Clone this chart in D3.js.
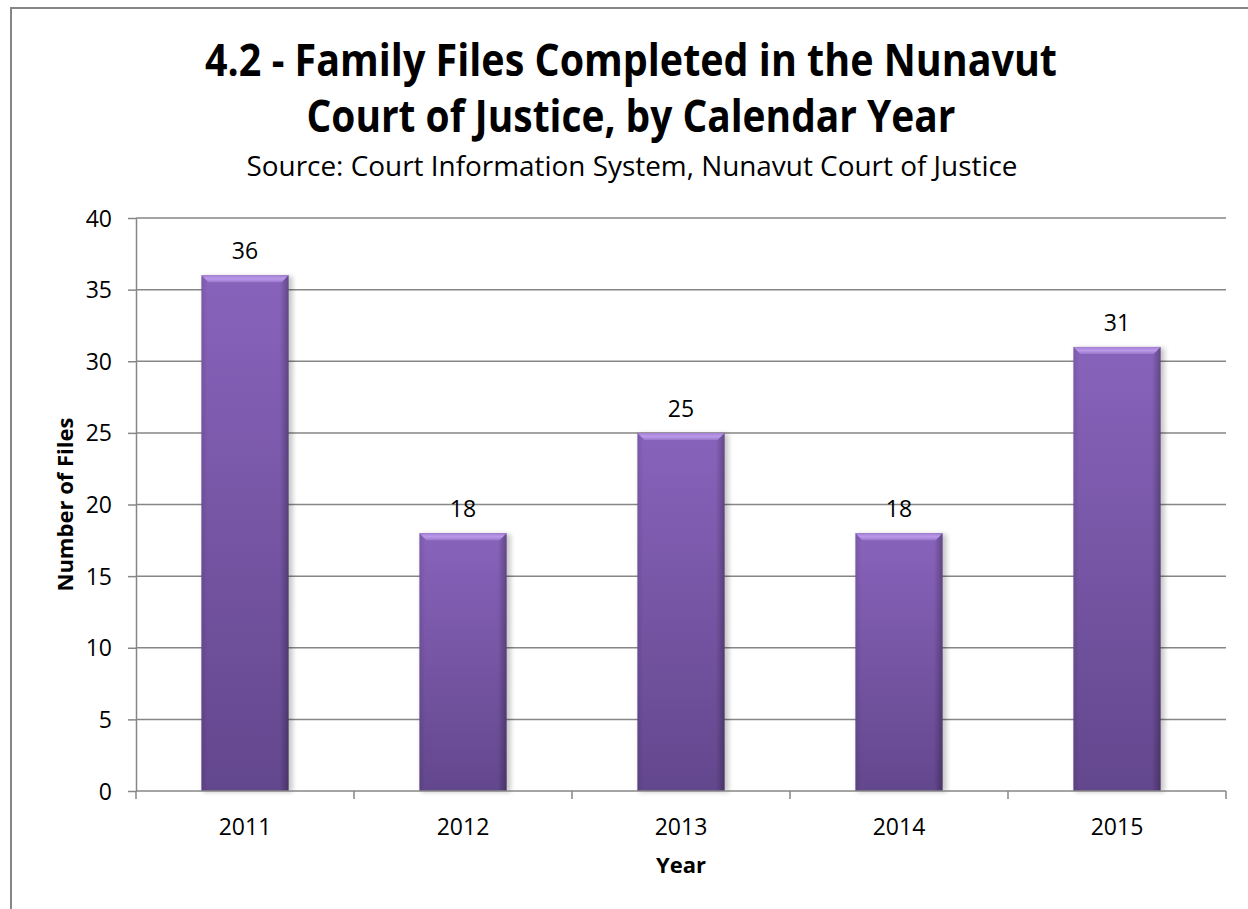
<!DOCTYPE html>
<html>
<head>
<meta charset="utf-8">
<script src="https://cdn.jsdelivr.net/npm/d3@7"></script>
<style>
  body { margin: 0; background: #fff; overflow: hidden; }
  text { font-family: "Open Sans", "Liberation Sans", sans-serif; fill: #000; }
</style>
</head>
<body>
<script>
// data
var years = ["2011", "2012", "2013", "2014", "2015"];
var filesCompleted = [36, 18, 25, 18, 31];
var yTicks = [0, 5, 10, 15, 20, 25, 30, 35, 40];
var titleLines = ["4.2 - Family Files Completed in the Nunavut", "Court of Justice, by Calendar Year"];
var subtitle = "Source: Court Information System, Nunavut Court of Justice";
var xTitle = "Year";
var yTitle = "Number of Files";

var width = 1248, height = 909;
var plot = {left: 136, right: 1226, top: 218, bottom: 791};
var gridColor = "#868686";

var svg = d3.select("body").append("svg")
    .attr("width", width)
    .attr("height", height);

var defs = svg.append("defs");

// main face of the bar, light purple on top going darker
var fillGrad = defs.append("linearGradient")
    .attr("id", "barFill")
    .attr("x1", 0).attr("y1", 0).attr("x2", 0).attr("y2", 1);
fillGrad.append("stop").attr("offset", "0%").attr("stop-color", "#8863bb");
fillGrad.append("stop").attr("offset", "100%").attr("stop-color", "#63478d");

// darker side edges
var edgeGrad = defs.append("linearGradient")
    .attr("id", "barEdge")
    .attr("x1", 0).attr("y1", 0).attr("x2", 1).attr("y2", 0);
edgeGrad.append("stop").attr("offset", "0%").attr("stop-color", "#000").attr("stop-opacity", 0.10);
edgeGrad.append("stop").attr("offset", "7%").attr("stop-color", "#000").attr("stop-opacity", 0);
edgeGrad.append("stop").attr("offset", "90%").attr("stop-color", "#000").attr("stop-opacity", 0);
edgeGrad.append("stop").attr("offset", "100%").attr("stop-color", "#000").attr("stop-opacity", 0.28);

var bevelGrad = defs.append("linearGradient")
    .attr("id", "bevelTop")
    .attr("x1", 0).attr("y1", 0).attr("x2", 0).attr("y2", 1);
bevelGrad.append("stop").attr("offset", "0%").attr("stop-color", "#a27fd2");
bevelGrad.append("stop").attr("offset", "50%").attr("stop-color", "#bb99e9");
bevelGrad.append("stop").attr("offset", "100%").attr("stop-color", "#9a78cc");

var blur = defs.append("filter").attr("id", "soft")
    .attr("x", "-20%").attr("y", "-5%").attr("width", "140%").attr("height", "110%");
blur.append("feGaussianBlur").attr("stdDeviation", 2.5);

// chart frame (runs past the right and bottom edge of the window)
svg.append("rect")
    .attr("x", 11).attr("y", 8)
    .attr("width", 1250).attr("height", 940)
    .attr("fill", "#fff")
    .attr("stroke", gridColor)
    .attr("stroke-width", 2);

// scales
var x = d3.scaleBand()
    .domain(years)
    .range([plot.left, plot.right])
    .paddingInner(0.6)
    .paddingOuter(0.3);

var y = d3.scaleLinear()
    .domain([0, 40])
    .range([plot.bottom, plot.top]);

// gridlines
svg.append("g")
    .selectAll("line")
    .data(yTicks.slice(1))
    .join("line")
    .attr("x1", plot.left).attr("x2", plot.right)
    .attr("y1", d => y(d)).attr("y2", d => y(d))
    .attr("stroke", gridColor)
    .attr("stroke-width", 1.5);

// y axis
var yAxis = svg.append("g")
    .attr("transform", "translate(" + plot.left + ",0)")
    .call(d3.axisLeft(y).tickValues(yTicks).tickSize(8).tickPadding(16).tickSizeOuter(0));
yAxis.select(".domain").attr("stroke", gridColor).attr("stroke-width", 1.5);
yAxis.selectAll(".tick line").attr("stroke", gridColor).attr("stroke-width", 1.5);
yAxis.selectAll(".tick text")
    .attr("font-family", "Open Sans")
    .attr("font-size", 23)
    .attr("fill", "#000")
    .attr("dy", "0.35em");

// bars
var bars = svg.append("g")
    .selectAll("g")
    .data(years.map((d, i) => ({year: d, value: filesCompleted[i]})))
    .join("g");

var bevel = 7;

bars.append("rect")
    .attr("x", d => x(d.year) + 2)
    .attr("y", d => y(d.value) + 1)
    .attr("width", x.bandwidth() + 2)
    .attr("height", d => y(0) - y(d.value))
    .attr("fill", "#000")
    .attr("opacity", 0.22)
    .attr("filter", "url(#soft)");

bars.append("rect")
    .attr("x", d => x(d.year))
    .attr("y", d => y(d.value))
    .attr("width", x.bandwidth())
    .attr("height", d => y(0) - y(d.value))
    .attr("fill", "url(#barFill)");

bars.append("rect")
    .attr("x", d => x(d.year))
    .attr("y", d => y(d.value))
    .attr("width", x.bandwidth())
    .attr("height", d => y(0) - y(d.value))
    .attr("fill", "url(#barEdge)");

bars.append("path")
    .attr("d", d => {
        var x0 = x(d.year), x1 = x0 + x.bandwidth(), y0 = y(d.value);
        return "M" + x0 + "," + y0 + "L" + x1 + "," + y0 +
            "L" + (x1 - bevel) + "," + (y0 + bevel) + "L" + (x0 + bevel) + "," + (y0 + bevel) + "Z";
    })
    .attr("fill", "url(#bevelTop)");

// value labels
bars.append("text")
    .attr("x", d => x(d.year) + x.bandwidth() / 2)
    .attr("y", d => y(d.value) - 16)
    .attr("text-anchor", "middle")
    .attr("font-size", 23)
    .text(d => d.value);

// x axis: baseline, ticks on category borders, labels
svg.append("line")
    .attr("x1", plot.left).attr("x2", plot.right)
    .attr("y1", plot.bottom).attr("y2", plot.bottom)
    .attr("stroke", gridColor).attr("stroke-width", 1.5);

var borders = years.map(d => x(d) - x.step() * x.paddingInner() / 2)
    .concat([plot.right]);

svg.append("g")
    .selectAll("line")
    .data(borders)
    .join("line")
    .attr("x1", d => d).attr("x2", d => d)
    .attr("y1", plot.bottom).attr("y2", plot.bottom + 8)
    .attr("stroke", gridColor).attr("stroke-width", 1.5);

svg.append("g")
    .selectAll("text")
    .data(years)
    .join("text")
    .attr("x", d => x(d) + x.bandwidth() / 2)
    .attr("y", 835)
    .attr("text-anchor", "middle")
    .attr("font-size", 23)
    .text(d => d);

// axis titles
svg.append("text")
    .attr("x", (plot.left + plot.right) / 2)
    .attr("y", 873)
    .attr("text-anchor", "middle")
    .attr("font-size", 22)
    .attr("font-weight", "bold")
    .text(xTitle);

svg.append("text")
    .attr("transform", "translate(73," + (plot.top + plot.bottom) / 2 + ") rotate(-90)")
    .attr("text-anchor", "middle")
    .attr("font-size", 22)
    .attr("font-weight", "bold")
    .attr("textLength", 174)
    .attr("lengthAdjust", "spacingAndGlyphs")
    .text(yTitle);

// title and source
var titleWidths = [852, 649];
svg.append("g")
    .selectAll("text")
    .data(titleLines)
    .join("text")
    .attr("x", 631)
    .attr("y", (d, i) => 76 + i * 56)
    .attr("text-anchor", "middle")
    .attr("font-size", 44)
    .attr("font-weight", "bold")
    .attr("textLength", (d, i) => titleWidths[i])
    .attr("lengthAdjust", "spacingAndGlyphs")
    .text(d => d);

svg.append("text")
    .attr("x", 632)
    .attr("y", 176)
    .attr("text-anchor", "middle")
    .attr("font-size", 27)
    .attr("textLength", 771)
    .attr("lengthAdjust", "spacingAndGlyphs")
    .text(subtitle);
</script>
</body>
</html>
